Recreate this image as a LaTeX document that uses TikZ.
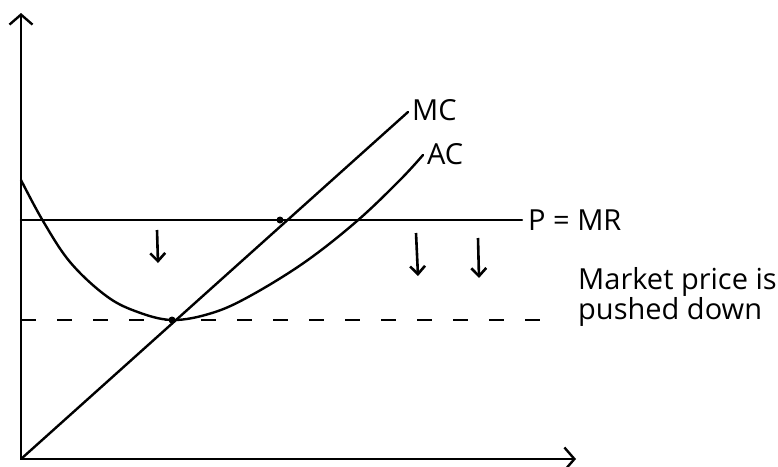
\documentclass[tikz,border=0pt]{standalone}
\usepackage{fontspec}
\setmainfont{Open Sans}
\usetikzlibrary{arrows.meta,positioning}

\begin{document}
\begin{tikzpicture}[
  x=1pt, y=-1pt,
  axis/.style={line width=2.4pt, -{Straight Barb[length=10pt,width=23pt,line width=2.4pt]}},
  curve/.style={line width=2.4pt, line cap=round},
  guide/.style={line width=2.4pt, dash pattern=on 15pt off 21pt},
  push/.style={line width=2.6pt, -{Straight Barb[length=8pt,width=15pt,line width=2.6pt]}},
  lbl/.style={font=\fontsize{29}{25}\selectfont, inner sep=1pt},
  dot/.style={circle, fill=black, inner sep=0pt, minimum size=7pt}
]
\useasboundingbox (0,0) rectangle (778,466);

% axes
\coordinate (origin) at (21,459);
\coordinate (ytop) at (21,13);
\coordinate (xend) at (576,459);
\draw[axis] (origin) -- (ytop);
\draw[axis] (origin) -- (xend);

% price lines
\coordinate (pstart) at (21,220);
\coordinate (pend) at (522,220);
\draw[curve] (pstart) -- (pend);
\node[lbl, right=5pt of pend] (pmr) {P = MR};

\coordinate (newstart) at (21,320);
\coordinate (newend) at (558,320);
\draw[guide] (newstart) -- (newend);

% cost curves
\coordinate (mcend) at (408,112);
\draw[curve] (origin) -- (mcend);
\node[lbl, anchor=west] (mc) at (411,110) {MC};

\coordinate (acend) at (423,155);
\draw[curve] plot[smooth, tension=0.6] coordinates {(21,180) (43,221) (70,262) (105,295) (135,311) (172,320) (212,313) (250,296) (305,262) (357,221) (400,180) (423,155)};
\node[lbl, anchor=west] (ac) at (426,154) {AC};

\node[dot] (top) at (280,220) {};
\node[dot] (low) at (172,320) {};

% price falls
\coordinate (a1) at (157,230);
\coordinate (a1e) at (158,263);
\coordinate (a2) at (416,233);
\coordinate (a2e) at (418,276);
\coordinate (a3) at (478,238);
\coordinate (a3e) at (479,278);
\draw[push] (a1) -- (a1e);
\draw[push] (a2) -- (a2e);
\draw[push] (a3) -- (a3e);

\node[lbl, align=left, anchor=west] (note) at (577,297) {Market price is\\pushed down};

\end{tikzpicture}
\end{document}
